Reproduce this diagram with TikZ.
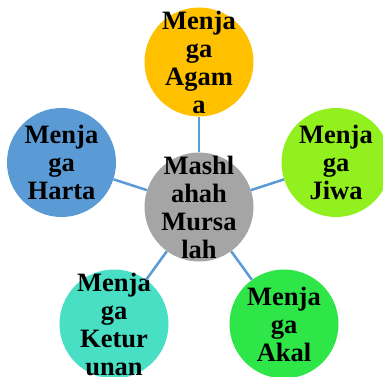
\documentclass[tikz,border=0pt]{standalone}
\usepackage{fontspec}
\setmainfont{Liberation Serif}
\definecolor{cTop}{HTML}{FFC000}
\definecolor{cLeft}{HTML}{5B9BD5}
\definecolor{cMid}{HTML}{A5A5A5}
\definecolor{cRight}{HTML}{92F01E}
\definecolor{cBL}{HTML}{48DFC4}
\definecolor{cBR}{HTML}{2EE648}
\definecolor{cLine}{HTML}{5B9BD5}
\tikzset{
  bub/.style={circle, draw=none, minimum size=109pt, inner sep=0pt},
  txt/.style={inner sep=0pt, align=center,
    font=\fontsize{26.5pt}{28pt}\selectfont\bfseries, text=black},
  link/.style={draw=cLine, line width=2.5pt}
}
\begin{document}
\begin{tikzpicture}[x=1pt,y=1pt]
\useasboundingbox (0,0) rectangle (383,-377);
\clip (0,0) rectangle (383,-377);
\node[bub, fill=cMid] (c) at (199,-207) {};
\node[bub, fill=cTop] (t) at (199,-62) {};
\node[bub, fill=cRight] (r) at (336,-162.5) {};
\node[bub, fill=cLeft] (l) at (61.5,-162.5) {};
\node[bub, fill=cBL] (bl) at (114,-324) {};
\node[bub, fill=cBR] (br) at (284,-324) {};
\node[txt] (ct) at (c) {Mashl\\ahah\\Mursa\\lah};
\node[txt] (tt) at (t) {Menja\\ga\\Agam\\a};
\node[txt] (rt) at (r) {Menja\\ga\\Jiwa};
\node[txt] (lt) at (l) {Menja\\ga\\Harta};
\node[txt] (blt) at (bl) {Menja\\ga\\Ketur\\unan};
\node[txt] (brt) at (br) {Menja\\ga\\Akal};
\draw[link] (c) -- (t);
\draw[link] (c) -- (r);
\draw[link] (c) -- (l);
\draw[link] (c) -- (bl);
\draw[link] (c) -- (br);
\end{tikzpicture}
\end{document}
